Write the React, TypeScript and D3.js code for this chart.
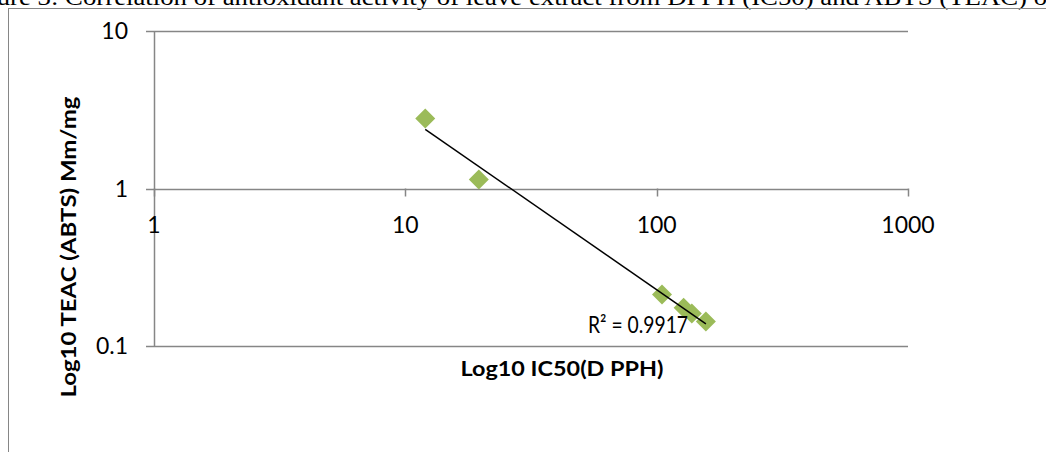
import React, { useEffect, useRef } from 'react';
import * as d3 from 'd3';

// IC50 (DPPH) vs TEAC (ABTS), both on log10 axes
const ic50Values = [12, 19.6, 105, 128, 138, 157];
const teacValues = [2.78, 1.14, 0.212, 0.175, 0.161, 0.143];
const xTicks = [1, 10, 100, 1000];
const yTicks = [0.1, 1, 10];
const r2Label = 'R² = 0.9917';
const titleText =
  'Figure 3: Correlation of antioxidant activity of leave extract from DPPH (IC50)  and ABTS (TEAC) of';

export default function App() {
  const svgRef = useRef<SVGSVGElement>(null);

  useEffect(() => {
    if (!svgRef.current) return;
    const svg = d3.select(svgRef.current);
    svg.selectAll('*').remove();

    const axisColor = '#868686';
    const font = 'Lato, "Noto Sans", sans-serif';

    const x = d3.scaleLog().domain([1, 1000]).range([154, 908]);
    const y = d3.scaleLog().domain([0.1, 10]).range([346, 31]);

    // clipped caption from the page above
    svg
      .append('text')
      .attr('x', -39)
      .attr('y', 5)
      .attr('textLength', 1095)
      .attr('lengthAdjust', 'spacingAndGlyphs')
      .style('font-family', '"Liberation Serif", "Times New Roman", serif')
      .style('font-size', '24px')
      .style('fill', '#000')
      .text(titleText);

    // chart frame
    svg
      .append('rect')
      .attr('x', 8.5)
      .attr('y', 8.5)
      .attr('width', 1200)
      .attr('height', 600)
      .attr('fill', 'none')
      .attr('stroke', axisColor)
      .attr('stroke-width', 1);

    // horizontal gridlines (with tick stub on left)
    svg
      .selectAll('.grid')
      .data(yTicks)
      .enter()
      .append('line')
      .attr('x1', 146)
      .attr('x2', x(1000))
      .attr('y1', (d) => Math.round(y(d)) + 0.5)
      .attr('y2', (d) => Math.round(y(d)) + 0.5)
      .attr('stroke', axisColor)
      .attr('stroke-width', 1.5);

    // y axis line
    svg
      .append('line')
      .attr('x1', x(1) + 0.5)
      .attr('x2', x(1) + 0.5)
      .attr('y1', y(10))
      .attr('y2', y(0.1))
      .attr('stroke', axisColor)
      .attr('stroke-width', 1.5);

    // x axis ticks at y = 1
    svg
      .selectAll('.xtick')
      .data(xTicks)
      .enter()
      .append('line')
      .attr('x1', (d) => Math.round(x(d)) + 0.5)
      .attr('x2', (d) => Math.round(x(d)) + 0.5)
      .attr('y1', y(1))
      .attr('y2', y(1) + 8)
      .attr('stroke', axisColor)
      .attr('stroke-width', 1.5);

    svg
      .selectAll('.xlabel')
      .data(xTicks)
      .enter()
      .append('text')
      .attr('x', (d) => x(d))
      .attr('y', y(1) + 44)
      .attr('text-anchor', 'middle')
      .style('font-family', font)
      .style('font-size', '23px')
      .style('fill', '#000')
      .text((d) => d3.format('d')(d));

    svg
      .selectAll('.ylabel')
      .data(yTicks)
      .enter()
      .append('text')
      .attr('x', 128)
      .attr('y', (d) => y(d) + 8)
      .attr('text-anchor', 'end')
      .style('font-family', font)
      .style('font-size', '23px')
      .style('fill', '#000')
      .text((d) => (d < 1 ? '0.1' : String(d)));

    // axis titles
    svg
      .append('text')
      .attr('transform', 'translate(76,247) rotate(-90)')
      .attr('text-anchor', 'middle')
      .attr('textLength', 301)
      .attr('lengthAdjust', 'spacingAndGlyphs')
      .style('font-family', font)
      .style('font-size', '21px')
      .style('font-weight', 'bold')
      .style('fill', '#000')
      .text('Log10 TEAC (ABTS) Mm/mg');

    svg
      .append('text')
      .attr('x', 562)
      .attr('y', 376)
      .attr('text-anchor', 'middle')
      .attr('textLength', 203)
      .attr('lengthAdjust', 'spacingAndGlyphs')
      .style('font-family', font)
      .style('font-size', '20px')
      .style('font-weight', 'bold')
      .style('fill', '#000')
      .text('Log10 IC50(D PPH)');

    // power trendline fitted in log space
    const lx = ic50Values.map(Math.log10);
    const ly = teacValues.map(Math.log10);
    const mx = d3.mean(lx) as number;
    const my = d3.mean(ly) as number;
    const slope =
      (d3.sum(lx.map((v, i) => (v - mx) * (ly[i] - my))) as number) /
      (d3.sum(lx.map((v) => (v - mx) ** 2)) as number);
    const intercept = my - slope * mx;
    const [xmin, xmax] = d3.extent(ic50Values) as [number, number];
    const fit = (v: number) => Math.pow(10, intercept + slope * Math.log10(v));

    // markers
    const diamond = d3.symbol().type(d3.symbolSquare).size(200);
    svg
      .selectAll('.pt')
      .data(ic50Values)
      .enter()
      .append('path')
      .attr('d', diamond)
      .attr('transform', (d, i) => `translate(${x(d)},${y(teacValues[i])}) rotate(45)`)
      .attr('fill', '#9BBB59');

    svg
      .append('line')
      .attr('x1', x(xmin))
      .attr('y1', y(fit(xmin)))
      .attr('x2', x(xmax))
      .attr('y2', y(fit(xmax)))
      .attr('stroke', '#000')
      .attr('stroke-width', 1.5);

    svg
      .append('text')
      .attr('x', 588)
      .attr('y', 333)
      .attr('textLength', 100)
      .attr('lengthAdjust', 'spacingAndGlyphs')
      .style('font-family', font)
      .style('font-size', '23px')
      .style('fill', '#000')
      .text(r2Label);
  }, []);

  return (
    <svg
      ref={svgRef}
      width={1046}
      height={452}
      style={{ position: 'absolute', left: 0, top: 0, background: '#fff' }}
    ></svg>
  );
}
